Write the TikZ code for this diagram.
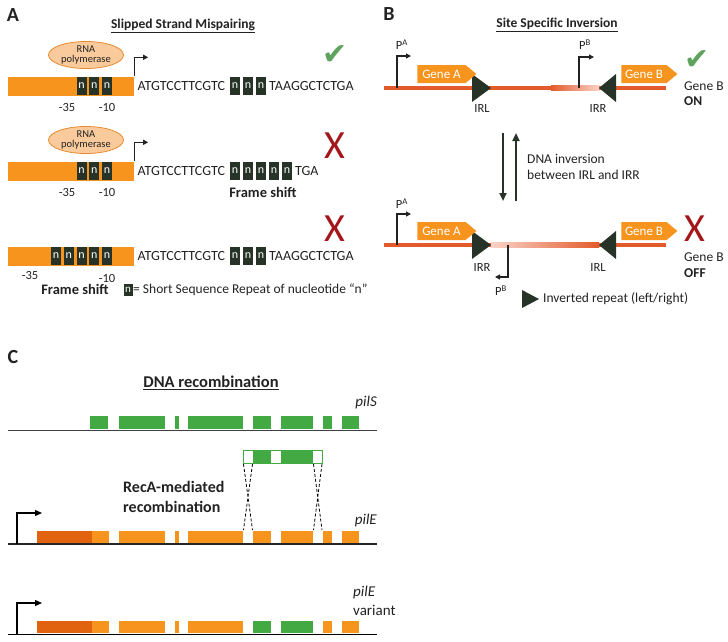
\documentclass[tikz,border=0pt]{standalone}
\usepackage{fontspec}
\setmainfont{Carlito}
\newfontfamily\dejavu{DejaVu Sans}
\usetikzlibrary{shapes.geometric,shapes.symbols,arrows.meta}
\newcommand\myfs[1]{\fontsize{#1}{#1}\selectfont}
\definecolor{barorange}{HTML}{F7941D}
\definecolor{darkorange}{HTML}{E2630F}
\definecolor{nbg}{HTML}{263326}
\definecolor{polfill}{HTML}{F9CB9C}
\definecolor{polline}{HTML}{E88A2E}
\definecolor{okgreen}{HTML}{5FA35F}
\definecolor{xred}{HTML}{A3161A}
\definecolor{dnared}{HTML}{E35B2C}
\definecolor{dnapale}{HTML}{F9D3C8}
\definecolor{blockgreen}{HTML}{43AA43}
\definecolor{txt}{HTML}{222222}
\begin{document}
\begin{tikzpicture}[x=1pt,y=-1pt,
  every node/.style={text=txt},
  panel/.style={inner sep=0pt, font=\bfseries\myfs{20}},
  title/.style={inner sep=0pt, font=\bfseries\myfs{13.5}},
  lab/.style={inner sep=0pt, font=\myfs{12.5}},
  nbox/.style={fill=nbg, text=white, minimum width=10pt, minimum height=18pt, inner sep=0pt, font=\myfs{12}},
  seq/.style={inner sep=0pt, anchor=west, font=\myfs{14}},
  bar/.style={fill=barorange, minimum width=126pt, minimum height=19pt, inner sep=0pt},
  pol/.style={ellipse, fill=polfill, draw=polline, line width=0.8pt, minimum width=75pt, minimum height=27pt, inner sep=0pt, align=center, font=\fontsize{10.5}{10.5}\selectfont},
  prom/.style={draw=txt, line width=1.3pt, -{Triangle[length=5pt,width=5pt]}},
  okmark/.style={inner sep=0pt, text=okgreen, font=\dejavu\myfs{30}},
  nomark/.style={inner sep=0pt, text=xred, font=\myfs{40}},
  fshift/.style={inner sep=0pt, font=\bfseries\myfs{14.5}},
  gene/.style={signal, signal to=east, signal pointer angle=80, fill=barorange, text=white, minimum height=18pt, inner sep=0pt, font=\myfs{13}},
  irtri/.style={fill=nbg},
  bprom/.style={draw=txt, line width=1.1pt, -{Triangle[length=5pt,width=5pt]}},
  inv/.style={draw=nbg, line width=2.4pt, -{Triangle[length=8pt,width=7pt]}},
  ctext/.style={inner sep=0pt, font=\myfs{15}},
  cprom/.style={draw=black, line width=1.2pt, -{Triangle[length=7pt,width=6pt]}},
]
\useasboundingbox (0,0) rectangle (728,641);

%%%%%%%%%%%%%%%% Panel A
\node[panel] (pA) at (13,15) {A};
\node[title] (tA) at (183,26) {\underline{Slipped Strand Mispairing}};

% row 1
\node[bar] (bar1) at (71,86) {};
\foreach \x [count=\i] in {81.5,94.25,107} \node[nbox] (b1n\i) at (\x,86) {n};
\node[pol] (pol1) at (86,55) {RNA\\polymerase};
\draw[prom] (bar1.north east) -- ++(0,-19) -- ++(14,0);
\node[seq] (s1a) at (137.5,86) {ATGTCCTTCGTC};
\foreach \x [count=\i] in {235,248,261} \node[nbox] (s1n\i) at (\x,86) {n};
\node[seq] (s1b) at (269,86) {TAAGGCTCTGA};
\node[lab] (m35a) at (67,107) {-35};
\node[lab] (m10a) at (107,107) {-10};
\node[okmark] (ok1) at (335,55) {✔};

% row 2
\node[bar] (bar2) at (71,171) {};
\foreach \x [count=\i] in {81.5,94.25,107} \node[nbox] (b2n\i) at (\x,171) {n};
\node[pol] (pol2) at (86,140) {RNA\\polymerase};
\draw[prom] (bar2.north east) -- ++(0,-19) -- ++(14,0);
\node[seq] (s2a) at (137.5,171) {ATGTCCTTCGTC};
\foreach \x [count=\i] in {235,248,261,274,287} \node[nbox] (s2n\i) at (\x,171) {n};
\node[seq] (s2b) at (295,171) {TGA};
\node[lab] (m35b) at (67,192) {-35};
\node[lab] (m10b) at (107,192) {-10};
\node[fshift] (fs1) at (263,192) {Frame shift};
\node[nomark] (no1) at (335,146) {X};

% row 3
\node[bar] (bar3) at (71,256) {};
\foreach \x [count=\i] in {56,68.75,81.5,94.25,107} \node[nbox] (b3n\i) at (\x,256) {n};
\node[seq] (s3a) at (137.5,256) {ATGTCCTTCGTC};
\foreach \x [count=\i] in {235,248,261} \node[nbox] (s3n\i) at (\x,256) {n};
\node[seq] (s3b) at (269,256) {TAAGGCTCTGA};
\node[lab] (m35c) at (30,275) {-35};
\node[lab] (m10c) at (107,278) {-10};
\node[fshift] (fs2) at (75,289) {Frame shift};
\node[nomark] (no2) at (335,229) {X};
\node[nbox, minimum height=12pt, minimum width=9pt, font=\myfs{11}] (legn) at (128,290) {n};
\node[lab, anchor=west, font=\myfs{13.5}] (legt) at (133,290) {= Short Sequence Repeat of nucleotide “n”};

%%%%%%%%%%%%%%%% Panel B
\node[panel] (pB) at (389,14) {B};
\node[title] (tB) at (557,25) {\underline{Site Specific Inversion}};

% top construct
\fill[dnared] (384,85.75) rectangle (666,90.25);
\shade[left color=dnared, right color=dnapale] (551,85.75) rectangle (599,90.25);
\fill[irtri] (472,74) -- (491,88) -- (472,102) -- cycle;
\fill[irtri] (616,74) -- (599,88) -- (616,102) -- cycle;
\node[gene, minimum width=59pt] (gA1) at (441.5,74) {Gene A};
\node[gene, minimum width=56pt] (gB1) at (644,74) {Gene B};
\coordinate (pa1) at (397,88);
\coordinate (pb1) at (579,88);
\draw[bprom] (pa1) -- ++(0,-32) -- ++(14,0);
\draw[bprom] (pb1) -- ++(0,-31) -- ++(15,0);
\node[lab] (lpa1) at (402,45) {P\textsuperscript{A}};
\node[lab] (lpb1) at (585,45) {P\textsuperscript{B}};
\node[lab] (irl1) at (482,108) {IRL};
\node[lab] (irr1) at (598,108) {IRR};
\node[okmark] (ok2) at (697,60) {✔};
\node[lab, anchor=west, font=\myfs{13.5}] (gbon) at (684,86) {Gene B};
\node[lab, anchor=west, font=\bfseries\myfs{13.5}] (on) at (684,101) {ON};

% inversion arrows
\coordinate (d1) at (503,133);
\coordinate (d2) at (503,201);
\coordinate (u1) at (516,201);
\coordinate (u2) at (516,133);
\draw[inv] (d1) -- (d2);
\draw[inv] (u1) -- (u2);
\node[lab, anchor=west, align=left, font=\fontsize{13.5}{16}\selectfont] (invt) at (527,167) {DNA inversion\\between IRL and IRR};

% bottom construct
\fill[dnared] (384,242.75) rectangle (666,247.25);
\shade[left color=dnapale, right color=dnared] (491,242.75) rectangle (599,247.25);
\fill[irtri] (472,231) -- (491,245) -- (472,259) -- cycle;
\fill[irtri] (616,231) -- (599,245) -- (616,259) -- cycle;
\node[gene, minimum width=59pt] (gA2) at (441.5,231) {Gene A};
\node[gene, minimum width=56pt] (gB2) at (644,231) {Gene B};
\coordinate (pa2) at (397,245);
\coordinate (pb2) at (508,245);
\draw[bprom] (pa2) -- ++(0,-31) -- ++(14,0);
\draw[bprom] (pb2) -- ++(0,32) -- ++(-13,0);
\node[lab] (lpa2) at (402,204) {P\textsuperscript{A}};
\node[lab] (lpb2) at (501,291) {P\textsuperscript{B}};
\node[lab] (irr2) at (482,267) {IRR};
\node[lab] (irl2) at (598,267) {IRL};
\node[nomark] (no3) at (695,229) {X};
\node[lab, anchor=west, font=\myfs{13.5}] (gboff) at (684,257) {Gene B};
\node[lab, anchor=west, font=\bfseries\myfs{13.5}] (off) at (684,273) {OFF};
\fill[irtri] (522,290) -- (539,299) -- (522,308) -- cycle;
\node[lab, anchor=west, font=\myfs{13.5}] (legir) at (543,299) {Inverted repeat (left/right)};

%%%%%%%%%%%%%%%% Panel C
\node[panel] (pC) at (13,357) {C};
\node[inner sep=0pt, font=\bfseries\myfs{16.5}] (tC) at (211,383) {\underline{DNA recombination}};

% pilS
\foreach \a/\b in {90/108,119/165,175/179,188/243,253/271,281/313,323/332,342/359}
  \fill[blockgreen] (\a,416) rectangle (\b,429);
\coordinate (sL) at (8,430);
\coordinate (sR) at (377,430);
\draw[black!75, line width=0.9pt] (sL) -- (sR);
\node[ctext, anchor=east, font=\itshape\myfs{15}] (pils) at (377,402) {pilS};

% floating segment
\fill[white] (243,450) rectangle (322,463);
\foreach \a/\b in {253/271,281/313} \fill[blockgreen] (\a,450) rectangle (\b,463);
\draw[blockgreen, line width=1pt] (243,450) rectangle (322,463);
\coordinate (f1) at (243.5,464);
\coordinate (f2) at (252.5,464);
\coordinate (f3) at (313.5,464);
\coordinate (f4) at (322,464);
\coordinate (e1) at (243.5,530);
\coordinate (e2) at (252.5,530);
\coordinate (e3) at (313.5,530);
\coordinate (e4) at (322,530);
\draw[dash pattern=on 3pt off 2pt, black, line width=0.8pt] (f1) -- (e2) (f2) -- (e1) (f3) -- (e4) (f4) -- (e3);

\node[inner sep=0pt, anchor=west, align=left, font=\bfseries\fontsize{16}{19.5}\selectfont] (reca) at (123,497) {RecA-mediated\\recombination};

% pilE
\fill[darkorange] (37,531) rectangle (92,543);
\foreach \a/\b in {92/109,119/165,175/179,188/243,253/271,281/313,323/332,342/359}
  \fill[barorange] (\a,531) rectangle (\b,543);
\coordinate (eL) at (8,544);
\coordinate (eR) at (377,544);
\draw[black!85, line width=1.1pt] (eL) -- (eR);
\coordinate (ep) at (17,544);
\draw[cprom] (ep) -- ++(0,-31) -- ++(25,0);
\node[ctext, anchor=east, font=\itshape\myfs{15}] (pile) at (377,520) {pilE};

% pilE variant
\fill[darkorange] (37,621) rectangle (92,633);
\foreach \a/\b in {92/109,119/165,175/179,188/243,323/332,342/359}
  \fill[barorange] (\a,621) rectangle (\b,633);
\foreach \a/\b in {253/271,281/313}
  \fill[blockgreen] (\a,621) rectangle (\b,633);
\coordinate (vL) at (8,634.5);
\coordinate (vR) at (377,634.5);
\draw[black, line width=1.5pt] (vL) -- (vR);
\coordinate (vp) at (17,634.5);
\draw[cprom] (vp) -- ++(0,-31.5) -- ++(25,0);
\node[ctext, anchor=west, font=\itshape\myfs{15}] (pilev) at (353,592) {pilE};
\node[ctext, anchor=west] (variant) at (353,610) {variant};
\end{tikzpicture}
\end{document}
